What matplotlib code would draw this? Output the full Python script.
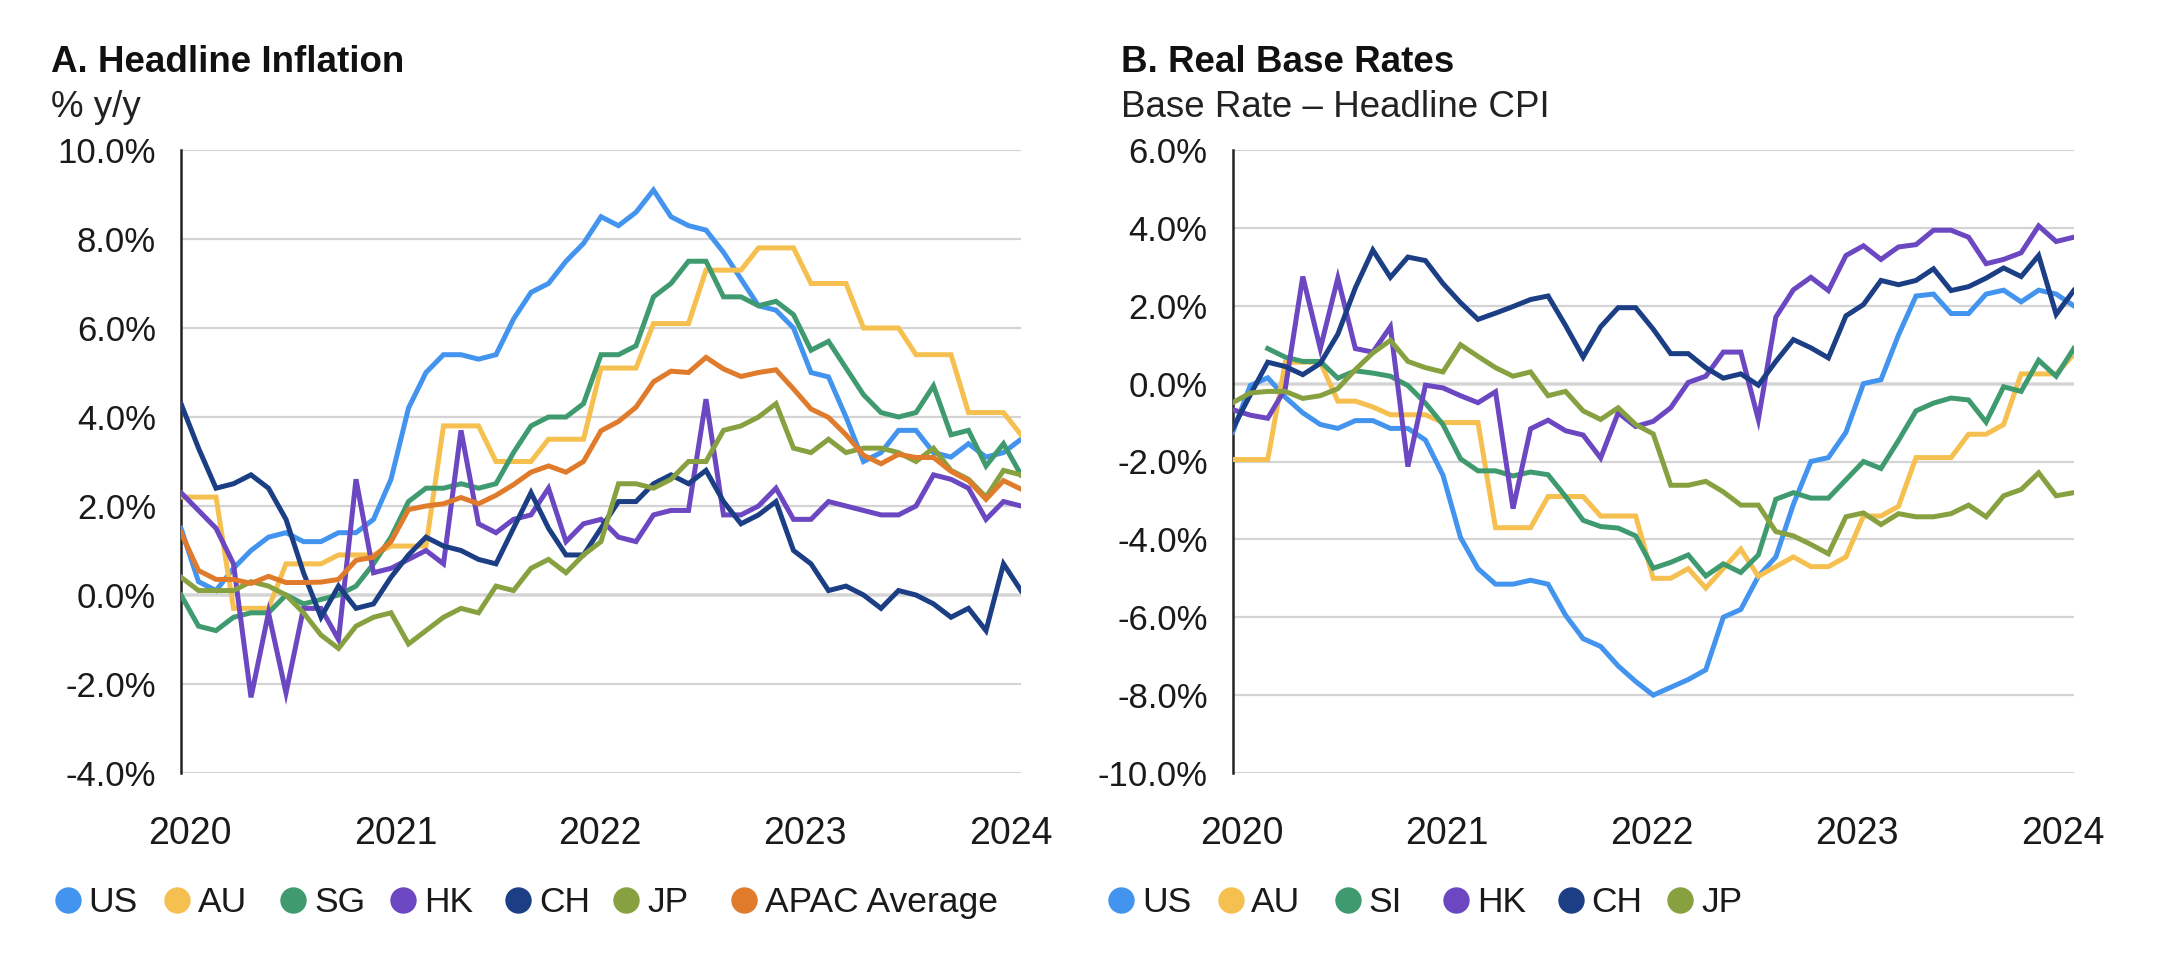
import numpy as np
import matplotlib
matplotlib.use("Agg")
import matplotlib.pyplot as plt
from matplotlib.lines import Line2D
from matplotlib.ticker import FuncFormatter

# monthly, Mar 2020 .. Mar 2024
year_labels = ["2020", "2021", "2022", "2023", "2024"]

# A. headline inflation, % y/y
us_cpi = [1.5, 0.3, 0.1, 0.6, 1.0, 1.3, 1.4, 1.2, 1.2, 1.4, 1.4, 1.7,
          2.6, 4.2, 5.0, 5.4, 5.4, 5.3, 5.4, 6.2, 6.8, 7.0, 7.5, 7.9,
          8.5, 8.3, 8.6, 9.1, 8.5, 8.3, 8.2, 7.7, 7.1, 6.5, 6.4, 6.0,
          5.0, 4.9, 4.0, 3.0, 3.2, 3.7, 3.7, 3.2, 3.1, 3.4, 3.1, 3.2,
          3.5]
au_cpi = [2.2, 2.2, 2.2, -0.3, -0.3, -0.3, 0.7, 0.7, 0.7, 0.9, 0.9, 0.9,
          1.1, 1.1, 1.1, 3.8, 3.8, 3.8, 3.0, 3.0, 3.0, 3.5, 3.5, 3.5,
          5.1, 5.1, 5.1, 6.1, 6.1, 6.1, 7.3, 7.3, 7.3, 7.8, 7.8, 7.8,
          7.0, 7.0, 7.0, 6.0, 6.0, 6.0, 5.4, 5.4, 5.4, 4.1, 4.1, 4.1,
          3.6]
sg_cpi = [0.0, -0.7, -0.8, -0.5, -0.4, -0.4, 0.0, -0.2, -0.1, 0.0, 0.2, 0.7,
          1.3, 2.1, 2.4, 2.4, 2.5, 2.4, 2.5, 3.2, 3.8, 4.0, 4.0, 4.3,
          5.4, 5.4, 5.6, 6.7, 7.0, 7.5, 7.5, 6.7, 6.7, 6.5, 6.6, 6.3,
          5.5, 5.7, 5.1, 4.5, 4.1, 4.0, 4.1, 4.7, 3.6, 3.7, 2.9, 3.4,
          2.7]
hk_cpi = [2.3, 1.9, 1.5, 0.7, -2.3, -0.4, -2.2, -0.3, -0.3, -1.0, 2.6, 0.5,
          0.6, 0.8, 1.0, 0.7, 3.7, 1.6, 1.4, 1.7, 1.8, 2.4, 1.2, 1.6,
          1.7, 1.3, 1.2, 1.8, 1.9, 1.9, 4.4, 1.8, 1.8, 2.0, 2.4, 1.7,
          1.7, 2.1, 2.0, 1.9, 1.8, 1.8, 2.0, 2.7, 2.6, 2.4, 1.7, 2.1,
          2.0]
ch_cpi = [4.3, 3.3, 2.4, 2.5, 2.7, 2.4, 1.7, 0.5, -0.5, 0.2, -0.3, -0.2,
          0.4, 0.9, 1.3, 1.1, 1.0, 0.8, 0.7, 1.5, 2.3, 1.5, 0.9, 0.9,
          1.5, 2.1, 2.1, 2.5, 2.7, 2.5, 2.8, 2.1, 1.6, 1.8, 2.1, 1.0,
          0.7, 0.1, 0.2, 0.0, -0.3, 0.1, 0.0, -0.2, -0.5, -0.3, -0.8, 0.7,
          0.1]
jp_cpi = [0.4, 0.1, 0.1, 0.1, 0.3, 0.2, 0.0, -0.4, -0.9, -1.2, -0.7, -0.5,
          -0.4, -1.1, -0.8, -0.5, -0.3, -0.4, 0.2, 0.1, 0.6, 0.8, 0.5, 0.9,
          1.2, 2.5, 2.5, 2.4, 2.6, 3.0, 3.0, 3.7, 3.8, 4.0, 4.3, 3.3,
          3.2, 3.5, 3.2, 3.3, 3.3, 3.2, 3.0, 3.3, 2.8, 2.6, 2.2, 2.8,
          2.7]
apac_avg = [1.4, 0.55, 0.35, 0.35, 0.26, 0.42, 0.28, 0.28, 0.29, 0.35, 0.78, 0.85,
            1.2, 1.92, 2.0, 2.05, 2.19, 2.05, 2.24, 2.48, 2.76, 2.9, 2.76, 3.0,
            3.69, 3.9, 4.22, 4.79, 5.03, 5.0, 5.34, 5.08, 4.91, 5.0, 5.06, 4.63,
            4.18, 3.99, 3.6, 3.14, 2.95, 3.16, 3.09, 3.09, 2.78, 2.57, 2.15, 2.57,
            2.38]

# B. real base rates, base rate - headline CPI
us_real = [-1.25, -0.05, 0.15, -0.35, -0.75, -1.05, -1.15, -0.95, -0.95, -1.15, -1.15, -1.45,
           -2.35, -3.95, -4.75, -5.15, -5.15, -5.05, -5.15, -5.95, -6.55, -6.75, -7.25, -7.65,
           -8.0, -7.8, -7.6, -7.35, -6.0, -5.8, -4.95, -4.45, -3.1, -2.0, -1.9, -1.25,
           0.0, 0.1, 1.25, 2.25, 2.3, 1.8, 1.8, 2.3, 2.4, 2.1, 2.4, 2.3,
           2.0]
au_real = [-1.95, -1.95, -1.95, 0.55, 0.55, 0.55, -0.45, -0.45, -0.6, -0.8, -0.8, -0.8,
           -1.0, -1.0, -1.0, -3.7, -3.7, -3.7, -2.9, -2.9, -2.9, -3.4, -3.4, -3.4,
           -5.0, -5.0, -4.75, -5.25, -4.75, -4.25, -4.95, -4.7, -4.45, -4.7, -4.7, -4.45,
           -3.4, -3.4, -3.15, -1.9, -1.9, -1.9, -1.3, -1.3, -1.05, 0.25, 0.25, 0.25,
           0.75]
si_real = [np.nan, np.nan, 0.9, 0.68, 0.57, 0.57, 0.14, 0.33, 0.27, 0.19, -0.05, -0.5,
           -1.05, -1.93, -2.24, -2.24, -2.37, -2.27, -2.34, -2.9, -3.51, -3.67, -3.71, -3.91,
           -4.74, -4.59, -4.4, -4.94, -4.63, -4.85, -4.4, -2.97, -2.8, -2.94, -2.94, -2.47,
           -2.0, -2.18, -1.46, -0.7, -0.5, -0.37, -0.42, -0.99, -0.08, -0.2, 0.6, 0.19,
           0.9]
hk_real = [-0.67, -0.81, -0.89, -0.13, 2.75, 0.9, 2.71, 0.9, 0.81, 1.46, -2.13, -0.04,
           -0.11, -0.31, -0.49, -0.21, -3.21, -1.16, -0.94, -1.21, -1.32, -1.91, -0.75, -1.1,
           -0.97, -0.62, 0.03, 0.19, 0.81, 0.81, -0.92, 1.71, 2.41, 2.73, 2.39, 3.29,
           3.54, 3.19, 3.51, 3.57, 3.94, 3.94, 3.76, 3.08, 3.19, 3.36, 4.05, 3.65,
           3.76]
ch_real = [-1.16, -0.29, 0.55, 0.44, 0.23, 0.52, 1.27, 2.46, 3.43, 2.73, 3.25, 3.16,
           2.57, 2.08, 1.65, 1.81, 1.98, 2.16, 2.25, 1.49, 0.68, 1.46, 1.95, 1.95,
           1.4, 0.77, 0.77, 0.41, 0.14, 0.25, -0.04, 0.57, 1.13, 0.92, 0.66, 1.74,
           2.03, 2.65, 2.54, 2.65, 2.95, 2.39, 2.49, 2.71, 2.97, 2.75, 3.29, 1.78,
           2.39]
jp_real = [-0.49, -0.24, -0.2, -0.2, -0.38, -0.31, -0.13, 0.36, 0.79, 1.11, 0.57, 0.41,
           0.3, 1.0, 0.7, 0.41, 0.19, 0.3, -0.31, -0.2, -0.7, -0.92, -0.62, -1.05,
           -1.29, -2.61, -2.61, -2.51, -2.78, -3.12, -3.12, -3.8, -3.91, -4.13, -4.37, -3.42,
           -3.32, -3.62, -3.34, -3.42, -3.42, -3.34, -3.12, -3.42, -2.88, -2.72, -2.29, -2.88,
           -2.8]

COLORS = {
    "US": "#4394ee",
    "AU": "#f5c04f",
    "SG": "#3f9b6f",
    "SI": "#3f9b6f",
    "HK": "#6b47c1",
    "CH": "#1b3e85",
    "JP": "#88a140",
    "APAC Average": "#e07b2b",
}

W, H = 2179, 968
FONT = ["Liberation Sans", "DejaVu Sans"]
YEAR_POS = [0.5, 12.25, 23.95, 35.65, 47.4]

plt.rcParams["font.family"] = FONT
plt.rcParams["axes.unicode_minus"] = False


def style_axis(ax, ymin: float, ymax: float) -> None:
    ax.set_xlim(0, 48)
    ax.set_ylim(ymin, ymax)
    ax.set_yticks(np.arange(ymin, ymax + 1, 2))
    ax.yaxis.set_major_formatter(FuncFormatter(lambda v, p: f"{v:.1f}%"))
    ax.grid(axis="y", color="#d4d4d4", linewidth=1.6, zorder=0)
    ax.axhline(0, color="black", linewidth=1.6, zorder=1)
    for side in ["top", "right", "bottom"]:
        ax.spines[side].set_visible(False)
    ax.spines["left"].set_color("#222222")
    ax.spines["left"].set_linewidth(1.8)
    ax.set_xticks(YEAR_POS)
    ax.set_xticklabels(year_labels)
    ax.tick_params(axis="y", length=0, pad=18, labelsize=25, colors="#1a1a1a")
    ax.tick_params(axis="x", length=0, pad=31, labelsize=27, colors="#1a1a1a")


def draw_legend(fig, names, dots, texts) -> None:
    y = 1 - 900 / H
    for name, cx, tx in zip(names, dots, texts):
        fig.add_artist(Line2D([cx / W], [y], transform=fig.transFigure, marker="o",
                              markersize=18, linestyle="none",
                              color=COLORS[name]))
        fig.text(tx / W, 1 - 912 / H, name, fontsize=25.5, color="#1a1a1a",
                 ha="left", va="baseline")


def main() -> None:
    fig = plt.figure(figsize=(W / 100, H / 100), dpi=100)
    ax_a = fig.add_axes([181 / W, 1 - 773 / H, 840 / W, 623 / H])
    ax_b = fig.add_axes([1232.7 / W, 1 - 773 / H, 841 / W, 623 / H])

    months = np.arange(len(us_cpi))

    left = [("US", us_cpi), ("AU", au_cpi), ("SG", sg_cpi), ("HK", hk_cpi),
            ("CH", ch_cpi), ("JP", jp_cpi), ("APAC Average", apac_avg)]
    for name, vals in left:
        ax_a.plot(months, vals, color=COLORS[name], linewidth=3.6, zorder=3,
                  solid_joinstyle="miter")
    style_axis(ax_a, -4, 10)

    right = [("US", us_real), ("AU", au_real), ("SI", si_real), ("HK", hk_real),
             ("CH", ch_real), ("JP", jp_real)]
    for name, vals in right:
        ax_b.plot(months, vals, color=COLORS[name], linewidth=3.6, zorder=3,
                  solid_joinstyle="miter")
    style_axis(ax_b, -10, 6)

    fig.text(51 / W, 1 - 72 / H, "A. Headline Inflation", fontsize=26.5,
             fontweight="bold", va="baseline", color="#111111")
    fig.text(51 / W, 1 - 117 / H, "% y/y", fontsize=26.5, va="baseline",
             color="#222222")
    fig.text(1121 / W, 1 - 72 / H, "B. Real Base Rates", fontsize=26.5,
             fontweight="bold", va="baseline", color="#111111")
    fig.text(1121 / W, 1 - 117 / H, "Base Rate \u2013 Headline CPI",
             fontsize=26.5, va="baseline", color="#222222")

    draw_legend(fig, [n for n, _ in left],
                [68, 177, 293, 403, 518, 626, 744],
                [88, 198, 314, 424, 539, 647, 765])
    draw_legend(fig, [n for n, _ in right],
                [1121, 1231, 1348, 1456, 1571, 1680],
                [1142, 1251, 1368, 1477, 1591, 1701])

    fig.savefig("out.png", dpi=100)
    plt.close(fig)


if __name__ == "__main__":
    main()
